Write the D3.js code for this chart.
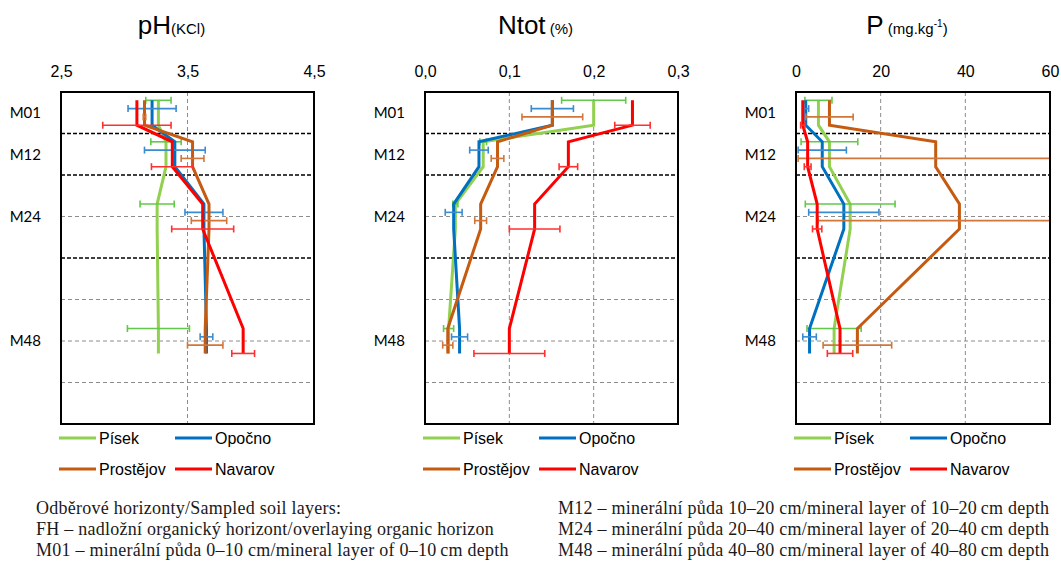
<!DOCTYPE html>
<html>
<head>
<meta charset="utf-8">
<script src="https://cdn.jsdelivr.net/npm/d3@7"></script>
<style>
  body { margin: 0; background: #fff; }
</style>
</head>
<body>
<svg id="chart" width="1061" height="566"></svg>
<script>
// soil horizons, placed at the middle of their depth range (cm)
var layers = ["M01", "M12", "M24", "M48"];
var layerDepth = [5, 15, 30, 60];
var boundaryDepths = [10, 20, 40];
var gridDepths = [30, 50, 60, 70];

var sites = ["Písek", "Opočno", "Prostějov", "Navarov"];
var siteColors = ["#92d050", "#0070c0", "#c55a11", "#ff0000"];
var barColors = ["#62c84a", "#3a8cd0", "#d0763a", "#ff3030"];
var barOffset = [-3, -1, 1, 3];   // each site's error bar sits a bit lower

// values per site (rows) and horizon (columns)
var phMean = [
    [3.27, 3.33, 3.26, 3.27],
    [3.22, 3.40, 3.63, 3.65],
    [3.16, 3.54, 3.67, 3.64],
    [3.10, 3.38, 3.62, 3.94]
];
var phErr = [
    [0.10, 0.12, 0.135, 0.245],
    [0.19, 0.24, 0.15, 0.05],
    [0.01, 0.09, 0.14, 0.14],
    [0.27, 0.165, 0.245, 0.09]
];

var ntotMean = [
    [0.200, 0.069, 0.036, 0.028],
    [0.151, 0.064, 0.034, 0.041],
    [0.151, 0.086, 0.066, 0.027],
    [0.246, 0.170, 0.130, 0.100]
];
var ntotErr = [
    [0.038, 0.004, 0.003, 0.006],
    [0.025, 0.011, 0.010, 0.0095],
    [0.036, 0.0075, 0.007, 0.006],
    [0.021, 0.011, 0.030, 0.042]
];

var pMean = [
    [5.3, 7.9, 12.8, 9.0],
    [2.3, 6.2, 11.3, 3.2],
    [7.9, 33.0, 38.6, 14.5],
    [1.6, 2.75, 5.0, 10.4]
];
var pErr = [
    [3.2, 6.7, 10.6, 6.4],
    [0.7, 5.7, 8.3, 1.6],
    [5.6, 32.5, 33.4, 8.1],
    [0.5, 0.8, 1.1, 3.0]
];

var phTicks = [2.5, 3.5, 4.5];
var phTickLabels = ["2,5", "3,5", "4,5"];
var ntotTicks = [0, 0.1, 0.2, 0.3];
var ntotTickLabels = ["0,0", "0,1", "0,2", "0,3"];
var pTicks = [0, 20, 40, 60];
var pTickLabels = ["0", "20", "40", "60"];

var notesLeft = [
    "Odběrové horizonty/Sampled soil layers:",
    "FH – nadložní organický horizont/overlaying organic horizon",
    "M01 – minerální půda 0–10 cm/mineral layer of 0–10\u2009cm depth"
];
var notesRight = [
    "M12 – minerální půda 10–20 cm/mineral layer of 10–20\u2009cm depth",
    "M24 – minerální půda 20–40 cm/mineral layer of 20–40\u2009cm depth",
    "M48 – minerální půda 40–80 cm/mineral layer of 40–80\u2009cm depth"
];

var svg = d3.select("#chart");
var top_y = 92, bottom_y = 424;

var y = d3.scaleLinear().domain([0, 80]).range([top_y, bottom_y]);

function draw_panel(id, left, right, domain, ticks, tickLabels, means, errs, title) {
    let x = d3.scaleLinear().domain(domain).range([left, right]);
    let g = svg.append("g");

    g.append("clipPath").attr("id", "clip-" + id)
        .append("rect")
        .attr("x", left).attr("y", top_y)
        .attr("width", right - left).attr("height", bottom_y - top_y);

    // title
    let t = g.append("text")
        .attr("x", (left + right) / 2 - 16)
        .attr("y", 34)
        .attr("text-anchor", "middle")
        .style("font-family", "Arial, 'Liberation Sans', sans-serif")
        .style("fill", "#000");
    t.append("tspan").attr("font-size", "26px").text(title.main);
    title.sub.forEach(function (s) {
        let sp = t.append("tspan").attr("font-size", s.size || "14px").text(s.text);
        if (s.dy) sp.attr("dy", s.dy);
    });

    // top axis labels
    g.append("g")
        .attr("transform", "translate(0," + 77 + ")")
        .call(d3.axisTop(x).tickValues(ticks).tickSize(0).tickPadding(0)
            .tickFormat(function (d, i) { return tickLabels[i]; }))
        .call(function (a) { a.select(".domain").remove(); })
        .selectAll("text")
        .attr("y", 0).attr("dy", 0)
        .style("font-family", "Arial, 'Liberation Sans', sans-serif")
        .style("font-size", "16px")
        .style("fill", "#000");

    // vertical grid
    g.selectAll(".vgrid")
        .data(ticks.slice(1, ticks.length - 1))
        .enter().append("line")
        .attr("x1", function (d) { return x(d); })
        .attr("x2", function (d) { return x(d); })
        .attr("y1", top_y).attr("y2", bottom_y)
        .style("stroke", "#8c8c8c")
        .style("stroke-width", 1)
        .style("stroke-dasharray", "4,3");

    // grey depth grid
    g.selectAll(".hgrid")
        .data(gridDepths)
        .enter().append("line")
        .attr("x1", left).attr("x2", right)
        .attr("y1", function (d) { return y(d); })
        .attr("y2", function (d) { return y(d); })
        .style("stroke", "#8c8c8c")
        .style("stroke-width", 1)
        .style("stroke-dasharray", "4,3");

    // horizon boundaries
    g.selectAll(".hbound")
        .data(boundaryDepths)
        .enter().append("line")
        .attr("x1", left).attr("x2", right)
        .attr("y1", function (d) { return y(d); })
        .attr("y2", function (d) { return y(d); })
        .style("stroke", "#000")
        .style("stroke-width", 1.6)
        .style("stroke-dasharray", "4,2");

    // horizon labels
    g.selectAll(".lay")
        .data(layers)
        .enter().append("text")
        .attr("x", left - 20)
        .attr("y", function (d, i) { return y(layerDepth[i]); })
        .attr("dy", "0.35em")
        .attr("text-anchor", "end")
        .style("font-family", "Lato, 'Open Sans', sans-serif")
        .style("font-size", "15px")
        .style("fill", "#000")
        .text(function (d) { return d; });

    // profile line: vertical within a horizon, slanted between horizons
    let line = d3.line()
        .x(function (d) { return x(d[0]); })
        .y(function (d) { return y(d[1]); });

    let plot = g.append("g").attr("clip-path", "url(#clip-" + id + ")");

    sites.forEach(function (s, si) {
        let pts = [];
        layerDepth.forEach(function (dep, li) {
            pts.push([means[si][li], dep - 3]);
            pts.push([means[si][li], dep + 3]);
        });
        plot.append("path")
            .attr("d", line(pts))
            .style("fill", "none")
            .style("stroke", siteColors[si])
            .style("stroke-width", 3)
            .style("stroke-linejoin", "miter");

        let bars = plot.selectAll(".bar" + si)
            .data(layerDepth)
            .enter().append("g");
        bars.append("line")
            .attr("x1", function (d, li) { return x(means[si][li] - errs[si][li]); })
            .attr("x2", function (d, li) { return x(means[si][li] + errs[si][li]); })
            .attr("y1", function (d) { return y(d + barOffset[si]); })
            .attr("y2", function (d) { return y(d + barOffset[si]); });
        bars.append("line")
            .attr("x1", function (d, li) { return x(means[si][li] - errs[si][li]); })
            .attr("x2", function (d, li) { return x(means[si][li] - errs[si][li]); })
            .attr("y1", function (d) { return y(d + barOffset[si]) - 3.5; })
            .attr("y2", function (d) { return y(d + barOffset[si]) + 3.5; });
        bars.append("line")
            .attr("x1", function (d, li) { return x(means[si][li] + errs[si][li]); })
            .attr("x2", function (d, li) { return x(means[si][li] + errs[si][li]); })
            .attr("y1", function (d) { return y(d + barOffset[si]) - 3.5; })
            .attr("y2", function (d) { return y(d + barOffset[si]) + 3.5; });
        bars.selectAll("line")
            .style("stroke", barColors[si])
            .style("stroke-width", 1.6);
    });

    // frame
    g.append("rect")
        .attr("x", left).attr("y", top_y)
        .attr("width", right - left).attr("height", bottom_y - top_y)
        .style("fill", "none")
        .style("stroke", "#000")
        .style("stroke-width", 2);

    // legend, 2 x 2
    let leg = g.selectAll(".leg")
        .data(sites)
        .enter().append("g")
        .attr("transform", function (d, i) {
            return "translate(" + (left - 2 + (i % 2) * 116) + "," + (438 + Math.floor(i / 2) * 31) + ")";
        });
    leg.append("line")
        .attr("x1", 0).attr("x2", 37)
        .style("stroke", function (d, i) { return siteColors[i]; })
        .style("stroke-width", 3);
    leg.append("text")
        .attr("x", 40)
        .attr("dy", "0.35em")
        .style("font-family", "Arial, 'Liberation Sans', sans-serif")
        .style("font-size", "16px")
        .style("fill", "#000")
        .text(function (d) { return d; });
}

draw_panel("ph", 61, 314, [2.5, 4.5], phTicks, phTickLabels, phMean, phErr,
    { main: "pH", sub: [{ text: "(KCl)", size: "15px" }] });
draw_panel("ntot", 425, 678, [0, 0.3], ntotTicks, ntotTickLabels, ntotMean, ntotErr,
    { main: "Ntot", sub: [{ text: " (%)", size: "15px" }] });
draw_panel("p", 796, 1050, [0, 60], pTicks, pTickLabels, pMean, pErr,
    { main: "P", sub: [{ text: " (mg.kg", size: "15px" }, { text: "-1", size: "10px", dy: "-7" }, { text: ")", size: "15px", dy: "7" }] });

// notes under the charts
function notes(lines, x0) {
    svg.append("g").selectAll("text")
        .data(lines)
        .enter().append("text")
        .attr("x", x0)
        .attr("y", function (d, i) { return 514 + i * 21; })
        .style("font-family", "'Liberation Serif', 'DejaVu Serif', serif")
        .style("font-size", "18px")
        .style("letter-spacing", "0.25px")
        .style("fill", "#1a1a1a")
        .text(function (d) { return d; });
}
notes(notesLeft, 36);
notes(notesRight, 558);
</script>
</body>
</html>
